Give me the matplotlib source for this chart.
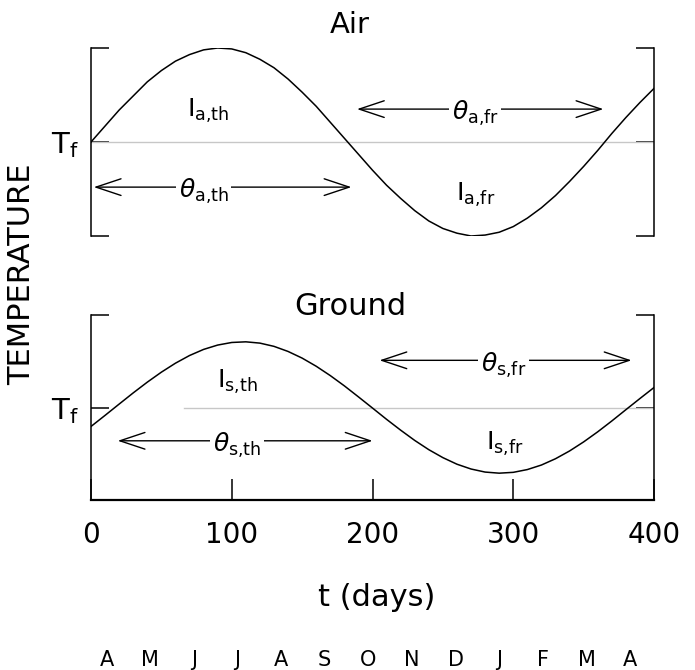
import matplotlib
matplotlib.use('Agg')
import matplotlib.pyplot as plt
import matplotlib.transforms as mtransforms

plt.rcParams['font.family'] = ['DejaVu Sans']

# days and curve values (T - Tf, scaled to the panel)
days = [0, 10, 20, 30, 40, 50, 60, 70, 80, 90,
        100, 110, 120, 130, 140, 150, 160, 170, 180, 190,
        200, 210, 220, 230, 240, 250, 260, 270, 280, 290,
        300, 310, 320, 330, 340, 350, 360, 370, 380, 390, 400]
air = [0.00, 0.17, 0.34, 0.49, 0.64, 0.76, 0.86, 0.93, 0.98, 1.00,
       0.99, 0.95, 0.88, 0.79, 0.67, 0.53, 0.38, 0.21, 0.04, -0.13,
       -0.30, -0.46, -0.60, -0.73, -0.84, -0.92, -0.97, -1.00, -0.99, -0.96,
       -0.90, -0.81, -0.70, -0.57, -0.42, -0.26, -0.09, 0.09, 0.26, 0.42, 0.57]
ground = [-0.205, -0.085, 0.037, 0.158, 0.274, 0.382, 0.479, 0.562, 0.628, 0.675,
          0.703, 0.710, 0.696, 0.661, 0.606, 0.534, 0.446, 0.345, 0.234, 0.115,
          -0.006, -0.128, -0.245, -0.356, -0.456, -0.542, -0.613, -0.665, -0.698, -0.710,
          -0.701, -0.671, -0.622, -0.554, -0.470, -0.372, -0.263, -0.146, -0.024, 0.097, 0.216]

xticks = [0, 100, 200, 300, 400]
months = ['A', 'M', 'J', 'J', 'A', 'S', 'O', 'N', 'D', 'J', 'F', 'M', 'A']
month_days = [11, 42, 73, 104, 135, 166, 197, 228, 259, 290, 321, 352, 383]

# (label, x, y) for the I labels, (label, x_left, x_right, x_text, y) for the arrows
air_I = [(r'$\mathregular{I_{a{,}th}}$', 83, 0.33), (r'$\mathregular{I_{a{,}fr}}$', 273, -0.56)]
air_theta = [(r'$\theta_{\mathregular{a{,}th}}$', 2, 185, 80, -0.48),
             (r'$\theta_{\mathregular{a{,}fr}}$', 189, 364, 273, 0.35)]
ground_I = [(r'$\mathregular{I_{s{,}th}}$', 104, 0.28), (r'$\mathregular{I_{s{,}fr}}$', 294, -0.39)]
ground_theta = [(r'$\theta_{\mathregular{s{,}th}}$', 19, 200, 104, -0.36),
                (r'$\theta_{\mathregular{s{,}fr}}$', 205, 384, 293, 0.51)]
air_tf = [0, 400]
ground_tf = [66, 400]

W, H = 695, 670
fig = plt.figure(figsize=(W / 100, H / 100), dpi=100)
ax1 = fig.add_axes([91 / W, 1 - 236 / H, 563 / W, 188 / H])
ax2 = fig.add_axes([91 / W, 1 - 500 / H, 563 / W, 185 / H])

LW = 1.1


def setup(ax):
    ax.set_xlim(0, 400)
    ax.set_ylim(-1, 1)
    ax.spines['top'].set_visible(False)
    for s in ('left', 'right', 'bottom'):
        ax.spines[s].set_linewidth(LW)
    ax.set_yticks([-1, 0, 1])
    ax.set_yticklabels(['', r'$\mathregular{T_f}$', ''])
    ax.tick_params(axis='y', direction='in', length=13, width=LW,
                   left=True, right=True, labelsize=21, pad=9)


def annotate(ax, I_labels, theta_labels):
    for lab, x, y in I_labels:
        ax.text(x, y, lab, fontsize=18, ha='center', va='center')
    for lab, x0, x1, xt, y in theta_labels:
        ax.annotate('', xy=(x0, y), xytext=(x1, y),
                    arrowprops=dict(arrowstyle='<->,head_length=0.9,head_width=0.3',
                                    lw=1.0, color='black', mutation_scale=20,
                                    shrinkA=0, shrinkB=0))
        ax.text(xt, y - 0.05, lab, fontsize=18, ha='center', va='center',
                bbox=dict(facecolor='white', edgecolor='none', pad=2))


# Air panel
setup(ax1)
ax1.spines['bottom'].set_visible(False)
ax1.set_xticks([])
ax1.plot(air_tf, [0, 0], color='0.78', lw=1.0)
ax1.plot(days, air, color='black', lw=LW)
annotate(ax1, air_I, air_theta)
ax1.text(184, 1.16, 'Air', fontsize=21, ha='center', va='baseline')

# Ground panel
setup(ax2)
ax2.spines['bottom'].set_linewidth(1.6)
ax2.set_xticks(xticks)
ax2.set_xticklabels([str(t) for t in xticks])
ax2.tick_params(axis='x', direction='in', length=15, width=LW, labelsize=20, pad=15)
ax2.plot(ground_tf, [0, 0], color='0.78', lw=1.0)
ax2.plot(days, ground, color='black', lw=LW)
annotate(ax2, ground_I, ground_theta)
ax2.text(184, 1.0, 'Ground', fontsize=22, ha='center', va='baseline')

# axis label, months
trans = mtransforms.blended_transform_factory(ax2.transData, fig.transFigure)
ax2.text(203, 1 - 598 / H, 't (days)', fontsize=22, ha='center', va='center',
         transform=trans)
for m, d in zip(months, month_days):
    ax2.text(d, 1 - 660 / H, m, fontsize=15, ha='center', va='center', transform=trans)

fig.text(22 / W, 1 - 274 / H, 'TEMPERATURE', fontsize=22, rotation=90,
         ha='center', va='center')

plt.savefig('out.png', dpi=100)
